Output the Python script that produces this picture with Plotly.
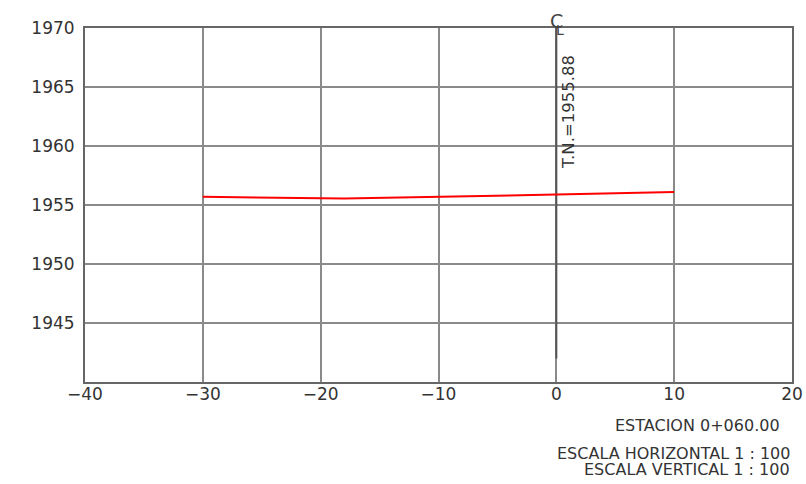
import plotly.graph_objects as go

# Data
offsets = [-30, -18, 0, 10]
elevations = [1955.7, 1955.55, 1955.88, 1956.1]
centerline_x = [0, 0]
centerline_y = [1942, 1971.1]
x_ticks = [-40, -30, -20, -10, 0, 10, 20]
x_tick_labels = ["\u221240", "\u221230", "\u221220", "\u221210", "0", "10", "20"]
y_ticks = [1945, 1950, 1955, 1960, 1965, 1970]
tn_label = "T.N.=1955.88"
station_label = "ESTACION 0+060.00"
scale_h = "ESCALA HORIZONTAL 1 : 100"
scale_v = "ESCALA VERTICAL 1 : 100"

FONT = "DejaVu Sans"
GRID = "#8a8a8a"
TXT = "#333333"

# plot area spans page px 85..792 x 28..382 (body margin removed below)
W, H = 806, 484
L, T = 85, 28
R = W - 792
B = H - 382

fig = go.Figure()
fig.add_trace(go.Scatter(x=centerline_x, y=centerline_y, mode="lines",
                         line=dict(color="#555555", width=2), cliponaxis=False,
                         hoverinfo="skip"))
fig.add_trace(go.Scatter(x=offsets, y=elevations, mode="lines",
                         line=dict(color="#ff0000", width=2), hoverinfo="skip"))

fig.update_layout(
    width=W, height=H,
    margin=dict(l=L, r=R, t=T, b=B, autoexpand=False),
    paper_bgcolor="white", plot_bgcolor="white",
    showlegend=False,
    font=dict(family=FONT, size=16, color=TXT),
    xaxis=dict(range=[-40, 20], tickvals=x_ticks, ticktext=x_tick_labels,
               showgrid=True, gridcolor=GRID, gridwidth=2, zeroline=False,
               showline=True, linecolor="#666666", linewidth=2, mirror=True,
               ticks="", ticklabeloverflow="allow", ticklabelstandoff=-4,
               tickfont=dict(size=17, color=TXT)),
    yaxis=dict(range=[1940, 1970], tickvals=y_ticks,
               showgrid=True, gridcolor=GRID, gridwidth=2, zeroline=False,
               showline=True, linecolor="#666666", linewidth=2, mirror=True,
               ticks="", ticklen=0, ticklabelstandoff=5,
               tickfont=dict(size=17, color=TXT)),
)

def pp(px, py):
    # page pixel -> paper coords of the plot area
    return (px - 85) / 707, (382 - py) / 354

annots = []
cx, cy = pp(556, 21)
annots.append(dict(x=cx, y=cy, xref="paper", yref="paper", text="C", showarrow=False,
                   xanchor="center", yanchor="middle",
                   font=dict(size=19, color="#444444")))
lx, ly = pp(554, 30)
annots.append(dict(x=lx, y=ly, xref="paper", yref="paper", text="L", showarrow=False,
                   xanchor="left", yanchor="middle",
                   font=dict(size=14, color="#444444")))
tx, ty = pp(568, 112)
annots.append(dict(x=tx, y=ty, xref="paper", yref="paper", text=tn_label, textangle=-90,
                   showarrow=False, xanchor="center", yanchor="middle",
                   font=dict(size=16.5, color=TXT)))
sx, sy = pp(782, 425)
sx2, sy2 = pp(792, 453)
sx3, sy3 = pp(792, 469)
annots.append(dict(x=sx, y=sy, xref="paper", yref="paper", text=station_label,
                   showarrow=False, xanchor="right", yanchor="middle",
                   font=dict(size=16, color=TXT)))
annots.append(dict(x=sx2, y=sy2, xref="paper", yref="paper", text=scale_h,
                   showarrow=False, xanchor="right", yanchor="middle",
                   font=dict(size=16, color=TXT)))
annots.append(dict(x=sx3, y=sy3, xref="paper", yref="paper", text=scale_v,
                   showarrow=False, xanchor="right", yanchor="middle",
                   font=dict(size=16, color=TXT)))
fig.layout.annotations = annots

fig.write_html("out.html", config={"displayModeBar": False},
               post_script="document.body.style.margin='0';document.body.style.overflow='hidden';")
